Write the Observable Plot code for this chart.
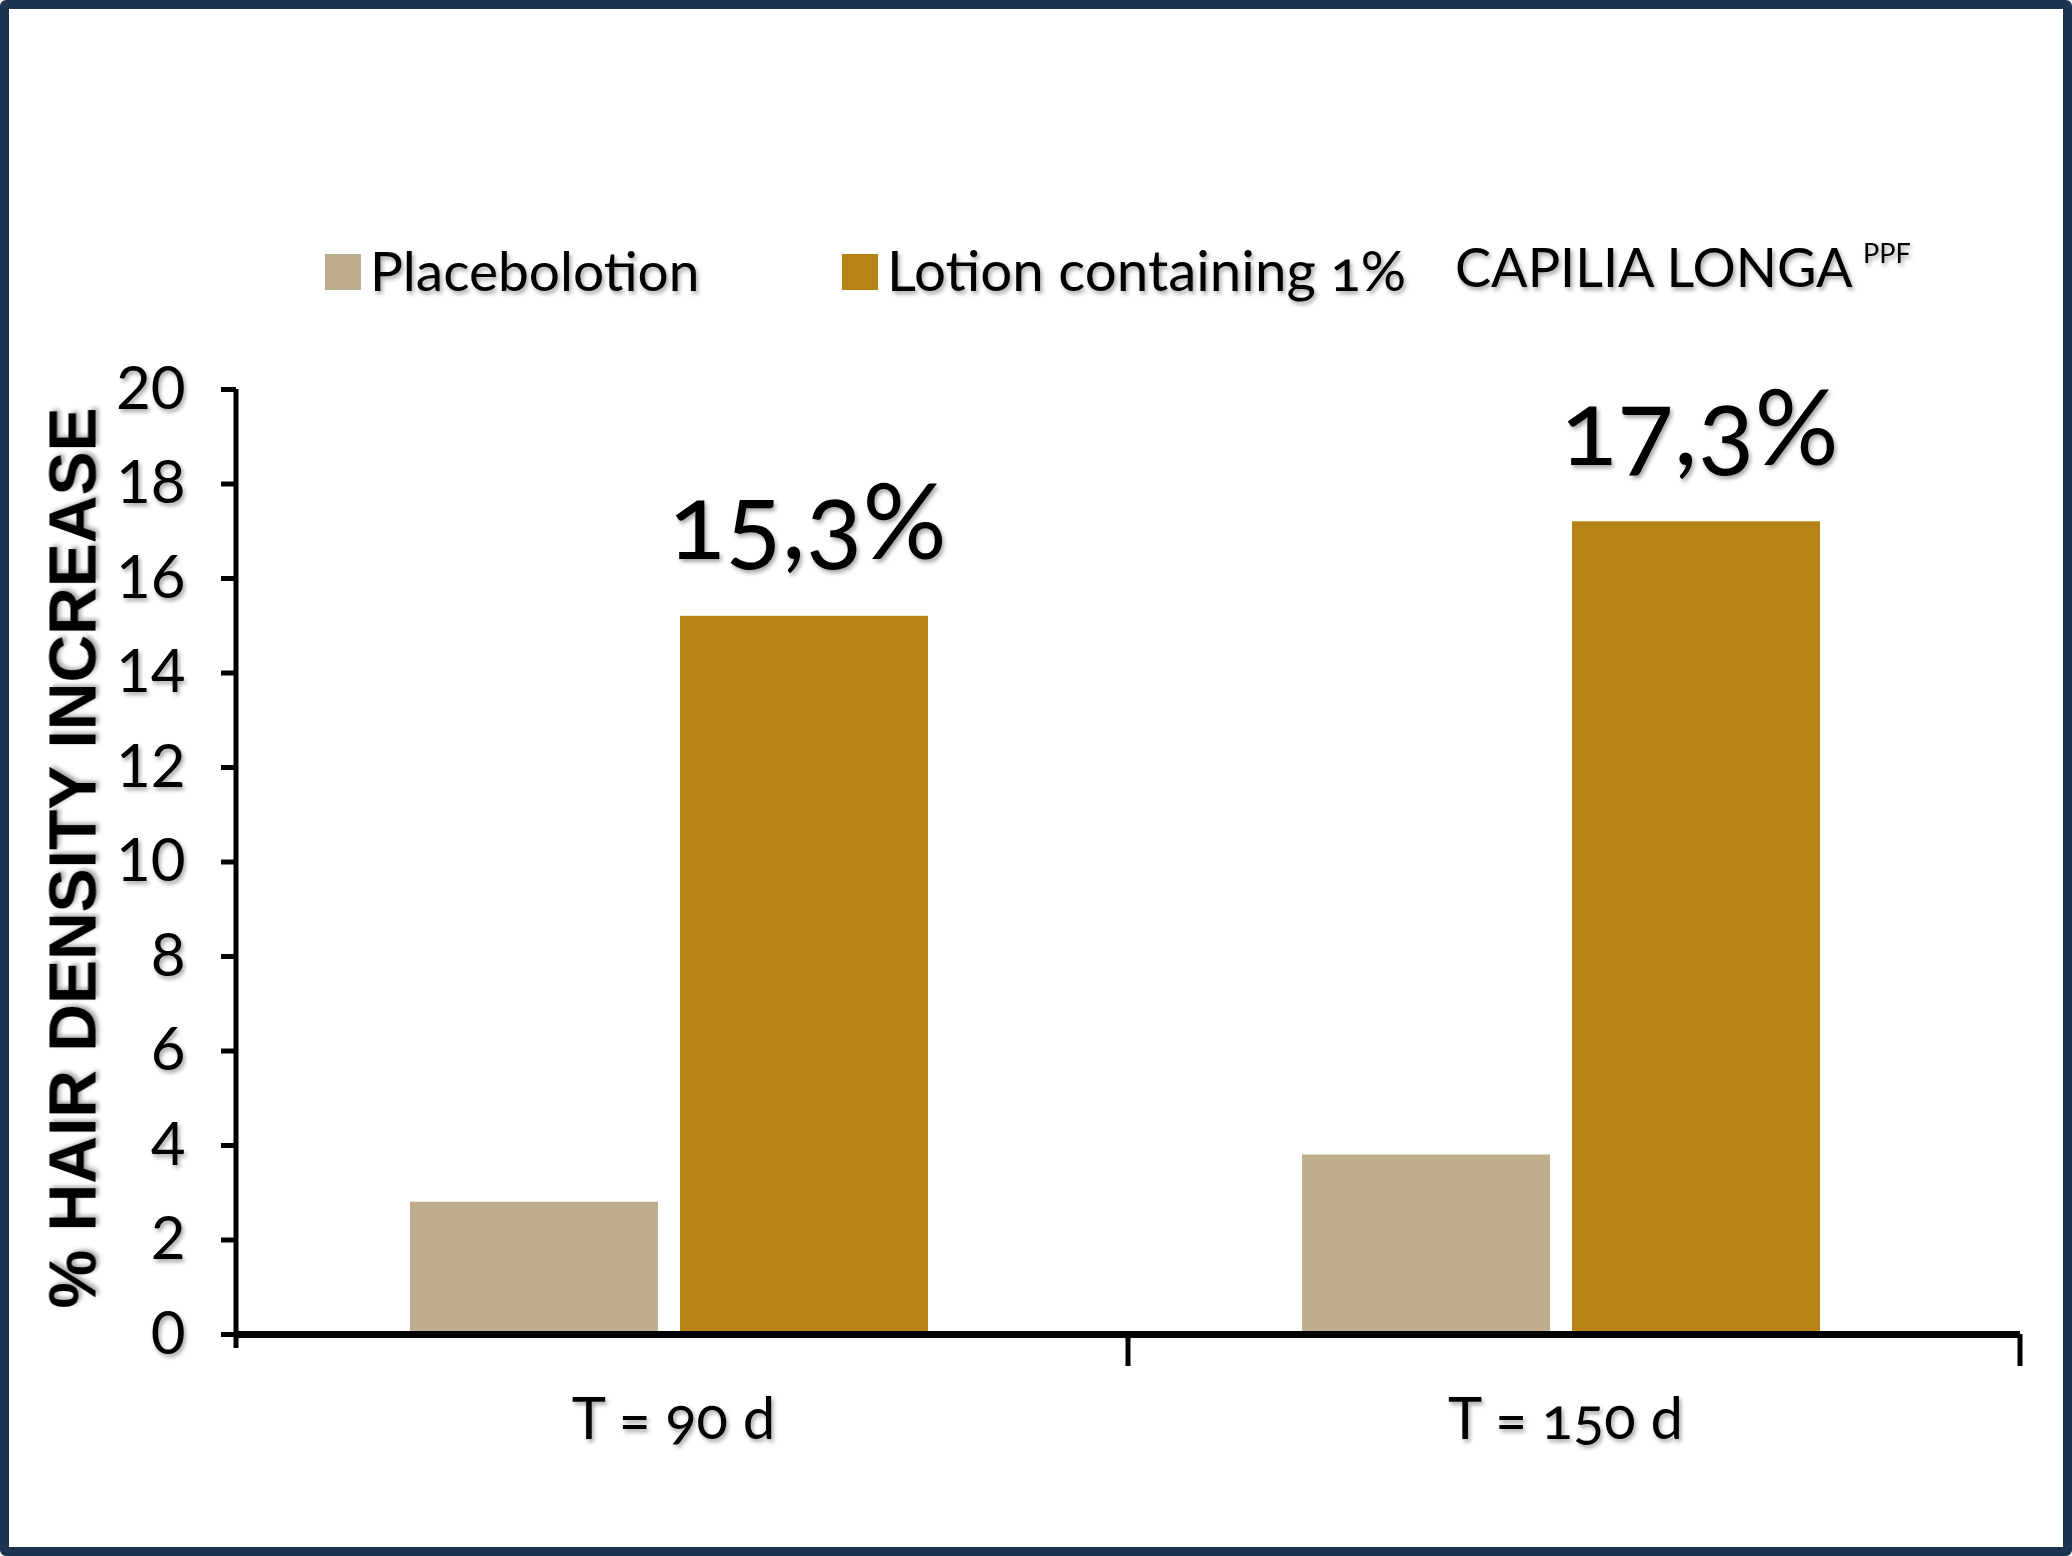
<!DOCTYPE html>
<html>
<head>
<meta charset="utf-8">
<script src="https://cdn.jsdelivr.net/npm/d3@7"></script>
<script src="https://cdn.jsdelivr.net/npm/@observablehq/plot@0.6"></script>
<style>
  html, body { margin: 0; padding: 0; background: #fff; }
  #page { position: relative; width: 2072px; height: 1556px; box-sizing: border-box;
          border: 9px solid #1d3451; border-radius: 6px; background: #fff; overflow: hidden; }
  #legend { position: absolute; left: 0; top: 0; }
  #chart { position: absolute; left: 0; top: 321px; }
  #page text { filter: url(#ts); }
</style>
</head>
<body>
<svg width="0" height="0" style="position:absolute">
  <defs>
    <filter id="ts" x="-10%" y="-20%" width="130%" height="150%">
      <feDropShadow dx="2" dy="3" stdDeviation="2" flood-color="#000" flood-opacity="0.35"/>
    </filter>
  </defs>
</svg>
<div id="page">
  <div id="legend"></div>
  <div id="chart"></div>
</div>
<script>
// ---- data ----
const periods = ["T = 90 d", "T = 150 d"];
const series = ["Placebolotion", "Lotion containing 1%"];
const placebo = [2.8, 3.8];
const lotion = [15.2, 17.2];
const lotionLabels = ["15,3%", "17,3%"];
const colors = ["#BDAD8D", "#B78316"];
const yTicks = [0, 2, 4, 6, 8, 10, 12, 14, 16, 18, 20];
const yTitle = "% HAIR DENSITY INCREASE";
const productName = "CAPILIA LONGA";
const productSup = "PPF";

const rows = periods.flatMap((p, i) => [
  {period: p, series: series[0], value: placebo[i]},
  {period: p, series: series[1], value: lotion[i], label: lotionLabels[i]}
]);

// ---- legend ----
const leg = d3.create("svg").attr("width", 2054).attr("height", 321)
  .style("font-family", "Lato").style("font-variant-numeric", "oldstyle-nums");
const legX = [316, 833];
const legSize = [55, 56.5];
series.forEach((s, i) => {
  leg.append("rect").attr("x", legX[i]).attr("y", 245).attr("width", 36).attr("height", 36).attr("fill", colors[i]);
  leg.append("text").attr("x", legX[i] + 45).attr("y", 282).attr("font-size", legSize[i]).attr("fill", "#000").text(s);
});
leg.append("text").attr("x", 1446).attr("y", 278).attr("font-size", 54).attr("fill", "#000").text(productName);
leg.append("text").attr("x", 1854).attr("y", 254).attr("font-size", 27).attr("fill", "#000").text(productSup);
document.getElementById("legend").append(leg.node());

// ---- chart ----
const chart = Plot.plot({
  width: 2054,
  height: 1217,
  marginLeft: 226,
  marginRight: 43,
  marginTop: 59,
  marginBottom: 213,
  style: {fontFamily: "Lato", fontVariantNumeric: "oldstyle-nums", color: "#000", background: "transparent", overflow: "visible"},
  fx: {domain: periods, padding: 0},
  x: {domain: series, paddingInner: 0.081, paddingOuter: 0.6875, align: 0.465, axis: null},
  y: {domain: [0, 20]},
  color: {domain: series, range: colors},
  marks: [
    Plot.barY(rows, {fx: "period", x: "series", y: "value", fill: "series"}),
    Plot.ruleY([0], {strokeWidth: 7, stroke: "#000"}),
    Plot.axisY({ticks: yTicks, tickSize: 15, tickPadding: 36, strokeWidth: 5, fontSize: 60, label: null, tickFormat: d => String(d)}),
    Plot.axisFx({anchor: "bottom", tickSize: 0, tickPadding: 63, fontSize: 58, label: null, dx: -9}),
    Plot.text(rows.filter(d => d.series === series[1]), {
      fx: "period", x: "series", y: "value", text: "label",
      dy: -57, dx: 3, lineAnchor: "bottom", fontSize: 105, fill: "#000"
    }),
    Plot.text([yTitle], {
      fx: () => periods[0], frameAnchor: "left", rotate: -90, dx: -141, dy: -4,
      text: d => d, fontSize: 66, fontWeight: "bold", fontFamily: "Liberation Sans",
      textAnchor: "middle", lineAnchor: "bottom", fill: "#000"
    })
  ]
});

// axis line and category boundary ticks, placed with the chart's own scales
const fx = chart.scale("fx");
const y = chart.scale("y");
const g = d3.select(chart).append("g").attr("stroke", "#000").attr("stroke-width", 5);
const x0 = fx.apply(periods[0]);
g.append("line").attr("x1", x0).attr("x2", x0).attr("y1", y.apply(20)).attr("y2", y.apply(0) + 14);
const bounds = periods.slice(1).map(p => fx.apply(p)).concat([fx.apply(periods[periods.length - 1]) + fx.bandwidth]);
bounds.forEach(b => {
  g.append("line").attr("x1", b).attr("x2", b).attr("y1", y.apply(0)).attr("y2", y.apply(0) + 32);
});

document.getElementById("chart").append(chart);
</script>
</body>
</html>
